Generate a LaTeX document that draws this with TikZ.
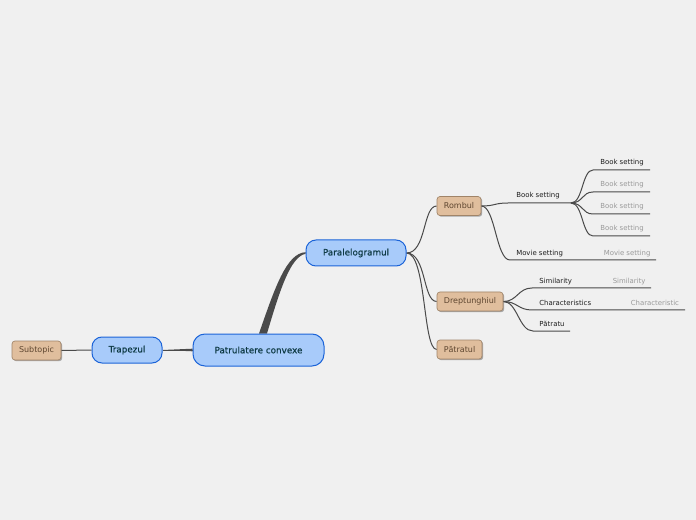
\documentclass[tikz,border=0pt]{standalone}
\usepackage{fontspec}
\setmainfont{DejaVu Sans}
\newfontfamily\nodefont[FakeBold=0.4]{DejaVu Sans}
\usetikzlibrary{shadows,calc}
\definecolor{bgc}{HTML}{F0F0F0}
\definecolor{bluefill}{HTML}{A8CBFA}
\definecolor{blueline}{HTML}{1C64D8}
\definecolor{bluetext}{HTML}{0E3A44}
\definecolor{tanfill}{HTML}{E0BE9D}
\definecolor{tanline}{HTML}{A08468}
\definecolor{tantext}{HTML}{5E4630}
\definecolor{conn}{HTML}{4A4A4A}
\definecolor{lbl}{HTML}{1E1E1E}
\definecolor{lblgray}{HTML}{9A9A9A}
\pgfdeclarelayer{back}
\pgfsetlayers{back,main}
\begin{document}
\begin{tikzpicture}[x=0.75pt,y=-0.75pt,
  bluenode/.style={draw=blueline, line width=0.75pt, fill=bluefill, text=bluetext,
    font=\nodefont\fontsize{6.6}{8}\selectfont, inner sep=0pt, minimum height=19.5pt, rounded corners=7.5pt},
  tannode/.style={draw=tanline, line width=0.5pt, fill=tanfill, text=tantext,
    font=\fontsize{6}{7}\selectfont, inner sep=0pt, minimum height=14.25pt, rounded corners=2.25pt,
    drop shadow={shadow xshift=0.9pt, shadow yshift=-0.9pt, opacity=0.3, fill=black}},
  lab/.style={anchor=west, inner sep=0pt, text=lbl, font=\fontsize{5.2}{6}\selectfont},
  labg/.style={lab, text=lblgray},
  link/.style={draw=conn, line width=0.75pt},
  ]
% nodes
\node[bluenode, minimum width=98.25pt, minimum height=24pt, rounded corners=9pt] (root) at (258.5,350) {Patrulatere convexe};
\node[bluenode, minimum width=52.5pt] (trap) at (127,350) {Trapezul};
\node[tannode, minimum width=36.75pt] (sub) at (36.5,350.5) {Subtopic};
\node[bluenode, minimum width=75pt] (para) at (356,253) {Paralelogramul};
\node[tannode, minimum width=33pt] (romb) at (459,206) {Rombul};
\node[tannode, minimum width=49.5pt] (drept) at (470,301.5) {Dreptunghiul};
\node[tannode, minimum width=33.75pt] (patr) at (459.5,349.5) {Pătratul};

% labels
\node[lab] (tbs) at (516,195.5) {Book setting};
\node[lab] (tbs1) at (600,163) {Book setting};
\node[labg] (tbs2) at (600,185) {Book setting};
\node[labg] (tbs3) at (600,207) {Book setting};
\node[labg] (tbs4) at (600,229) {Book setting};
\node[lab] (tmv) at (516,253.5) {Movie setting};
\node[labg] (tmvg) at (603.5,253.5) {Movie setting};
\node[lab] (tsim) at (539,281.5) {Similarity};
\node[labg] (tsimg) at (612.5,281.5) {Similarity};
\node[lab] (tch) at (539,302.5) {Characteristics};
\node[labg] (tchg) at (630.5,302.5) {Characteristic};
\node[lab] (tpa) at (539,324) {Pătratu};

% line coordinates
\coordinate (bsA) at (508,203);
\coordinate (bsB) at (571,203);
\coordinate (b1A) at (593,170); \coordinate (b1B) at (650,170);
\coordinate (b2A) at (593,192); \coordinate (b2B) at (650,192);
\coordinate (b3A) at (593,214); \coordinate (b3B) at (650,214);
\coordinate (b4A) at (593,236); \coordinate (b4B) at (650,236);
\coordinate (mvA) at (510,260); \coordinate (mvB) at (656,260);
\coordinate (siA) at (532,288); \coordinate (siB) at (651,288);
\coordinate (chA) at (532,310); \coordinate (chB) at (685,310);
\coordinate (paA) at (533,331); \coordinate (paB) at (570,331);

\begin{pgfonlayer}{back}
\fill[bgc] (0,0) rectangle (696,520);
% main thick branch
\fill[conn] ($(root.north)+(0.5,0)$) .. controls +(16,-46) and +(-19,1) .. ($(para.west)+(0,-0.8)$)
  -- ($(para.west)+(0,0.8)$) .. controls +(-15,3) and +(13,-44) .. ($(root.north)+(8.5,0)$) -- cycle;
\fill[conn] ($(root.west)+(0,-1.3)$) -- (trap.east) -- ($(root.west)+(0,1.3)$) -- cycle;
\draw[link] (root.west) -- (trap.east);
\draw[link] (sub.east) -- (trap.west);
% paralelogram children
\draw[link] (para.east) .. controls +(20,0) and +(-14,0) .. (romb.west);
\draw[link] (para.east) .. controls +(20,0) and +(-14,0) .. (drept.west);
\draw[link] (para.east) .. controls +(20,0) and +(-14,0) .. (patr.west);
% rombul children
\draw[link] (romb.east) .. controls +(14,0) and +(-14,0) .. (bsA) -- (bsB);
\draw[link] (romb.east) .. controls +(14,0) and +(-14,0) .. (mvA) -- (mvB);
\draw[link] (bsB) .. controls +(12,0) and +(-11,0) .. (b1A) -- (b1B);
\draw[link] (bsB) .. controls +(12,0) and +(-11,0) .. (b2A) -- (b2B);
\draw[link] (bsB) .. controls +(12,0) and +(-11,0) .. (b3A) -- (b3B);
\draw[link] (bsB) .. controls +(12,0) and +(-11,0) .. (b4A) -- (b4B);
% dreptunghiul children
\draw[link] (drept.east) .. controls +(14,0) and +(-14,0) .. (siA) -- (siB);
\draw[link] (drept.east) .. controls +(14,0) and +(-14,0) .. (chA) -- (chB);
\draw[link] (drept.east) .. controls +(14,0) and +(-14,0) .. (paA) -- (paB);
\end{pgfonlayer}
\end{tikzpicture}
\end{document}
